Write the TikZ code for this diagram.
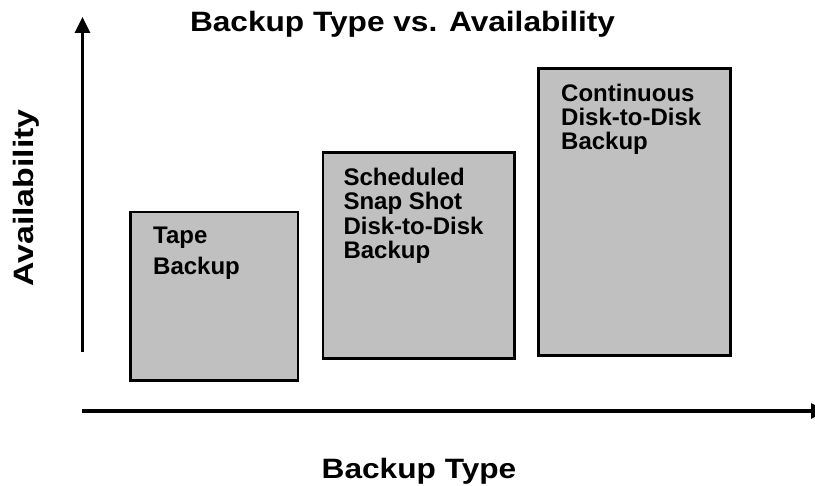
\documentclass[tikz,border=0pt]{standalone}
\usepackage{fontspec}
\setmainfont{Liberation Sans}
\newfontfamily\headfont[FakeStretch=1.13]{Liberation Sans}
\newfontfamily\yheadfont[FakeStretch=1.21]{Liberation Sans}
\usetikzlibrary{arrows.meta}
\definecolor{boxgray}{HTML}{C0C0C0}
\begin{document}
\begin{tikzpicture}[x=1pt,y=-1pt,
  bar/.style={draw=black, line width=2.6pt, fill=boxgray, inner sep=0pt, outer sep=0pt},
  axis/.style={line width=3.2pt, -{Triangle[width=15pt,length=16pt]}},
  boxtext/.style={anchor=base west, align=left, inner sep=0pt},
  head/.style={inner sep=0pt, font=\headfont\bfseries\fontsize{28}{32}\selectfont}]
\useasboundingbox (0,0) rectangle (815,486);
\fill[white] (0,0) rectangle (815,486);
% axes
\coordinate (yo) at (82.5,352);
\coordinate (ytop) at (82.5,17);
\coordinate (xo) at (82,411);
\coordinate (xend) at (827,411);
\draw[axis] (yo) -- (ytop);
\draw[axis] (xo) -- (xend);
% boxes
\node[bar, minimum width=167.3pt, minimum height=168.1pt] (b1) at (214.35,296.25) {};
\node[bar, minimum width=191.7pt, minimum height=205.9pt] (b2) at (418.85,255.75) {};
\node[bar, minimum width=192pt, minimum height=286.6pt] (b3) at (634.7,212) {};
% box texts (anchored at the baseline of the last line)
\node[boxtext, font=\bfseries\fontsize{24}{31}\selectfont] (t1) at (153,275) {Tape\\Backup};
\node[boxtext, font=\bfseries\fontsize{24}{24.5}\selectfont] (t2) at (343.3,259) {Scheduled\\Snap Shot\\Disk-to-Disk\\Backup};
\node[boxtext, font=\bfseries\fontsize{24}{24.2}\selectfont] (t3) at (561,150) {Continuous\\Disk-to-Disk\\Backup};
% labels
\node[head, anchor=base] (title) at (402.5,32) {Backup Type vs. Availability};
\node[head, anchor=base] (xlab) at (419,479) {Backup Type};
\node[head, anchor=base, rotate=90, font=\yheadfont\bfseries\fontsize{28}{32}\selectfont] (ylab) at (33.5,198) {Availability};
\end{tikzpicture}
\end{document}
